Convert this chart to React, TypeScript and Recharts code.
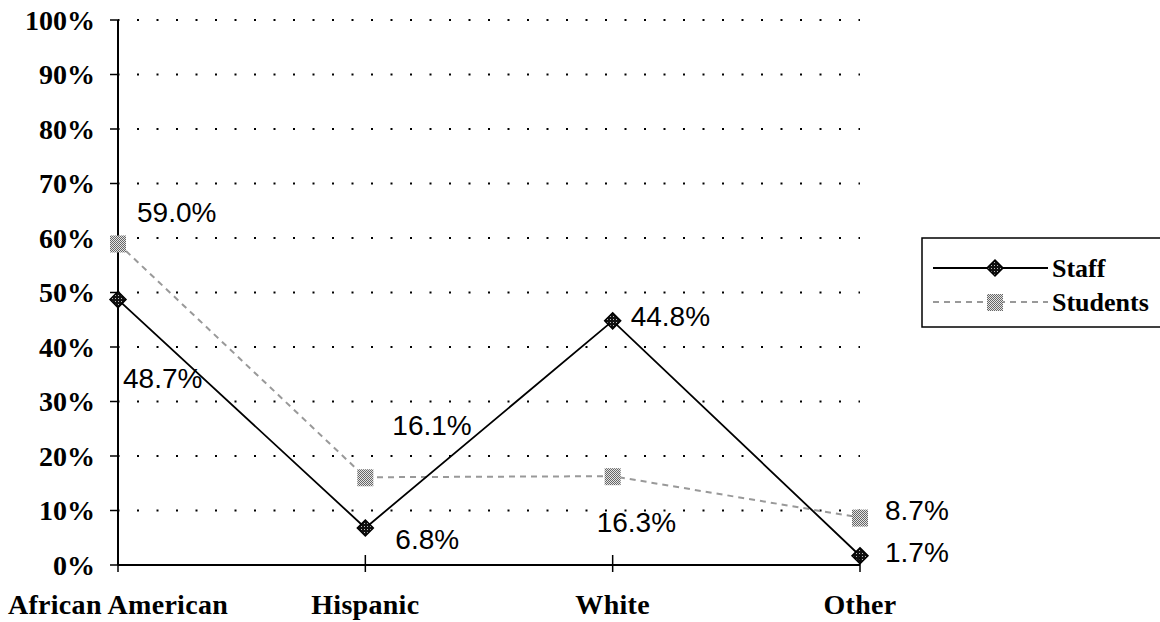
import React from 'react';
import { LineChart, Line, XAxis, YAxis, CartesianGrid } from 'recharts';

const categories = ['African American', 'Hispanic', 'White', 'Other'];
const staffValues = [48.7, 6.8, 44.8, 1.7];
const studentValues = [59.0, 16.1, 16.3, 8.7];
const yTicks = [0, 10, 20, 30, 40, 50, 60, 70, 80, 90, 100];
const seriesNames = ['Staff', 'Students'];

// label placement relative to each point (dx, dy)
const staffLabelOffsets = [[5, 79], [30, 12], [18, -4], [25, -3]];
const studentLabelOffsets = [[19, -31], [27, -52], [-16, 46], [25, -7]];

const data = categories.map((c, i) => ({
  category: c,
  staff: staffValues[i],
  students: studentValues[i],
}));

const SERIF = '"Liberation Serif", "Times New Roman", serif';
const SANS = '"Liberation Sans", Arial, sans-serif';

const StaffMarker = ({ cx, cy }: { cx: number; cy: number }) => (
  <path
    d={`M${cx},${cy - 8} L${cx + 8},${cy} L${cx},${cy + 8} L${cx - 8},${cy} Z`}
    fill="url(#staffHatch)"
    stroke="#000"
    strokeWidth={1.5}
  />
);

const StudentMarker = ({ cx, cy }: { cx: number; cy: number }) => (
  <rect x={cx - 8} y={cy - 8} width={16} height={17} fill="url(#studentStipple)" />
);

const renderStaffDot = (p: any) => (
  <StaffMarker key={`sd-${p.index}`} cx={p.cx} cy={p.cy} />
);
const renderStudentDot = (p: any) => (
  <StudentMarker key={`st-${p.index}`} cx={p.cx} cy={p.cy} />
);

const makeLabel = (offsets: number[][]) => (p: any) => {
  const o = offsets[p.index] || [0, 0];
  return (
    <text
      key={`lbl-${p.index}`}
      x={p.x + o[0]}
      y={p.y + o[1]}
      textAnchor="start"
      dominantBaseline="central"
      fontFamily={SANS}
      fontSize={28}
      fill="#000"
    >
      {Number(p.value).toFixed(1)}%
    </text>
  );
};

const CategoryTick = (p: any) => {
  const { x, y, payload } = p;
  return (
    <g>
      <line x1={x} x2={x} y1={y - 10} y2={y + 7} stroke="#000" strokeWidth={1.5} />
      <text
        x={x}
        y={y + 39}
        textAnchor="middle"
        dominantBaseline="central"
        fontFamily={SERIF}
        fontWeight="bold"
        fontSize={28}
        letterSpacing={0.3}
        fill="#000"
      >
        {payload.value}
      </text>
    </g>
  );
};

export default function App() {
  return (
    <div style={{ position: 'absolute', left: 0, top: 0, width: 1160, height: 622, background: '#fff', overflow: 'hidden' }}>
      <svg width={0} height={0} style={{ position: 'absolute' }}>
        <defs>
          <pattern id="staffHatch" patternUnits="userSpaceOnUse" width={3} height={3}>
            <rect width={3} height={3} fill="#111" />
            <rect x={1} y={1} width={1} height={1} fill="#bbb" />
          </pattern>
          <pattern id="studentStipple" patternUnits="userSpaceOnUse" width={2} height={2}>
            <rect width={2} height={2} fill="#e4e4e4" />
            <rect x={0} y={0} width={1} height={1} fill="#666" />
            <rect x={1} y={1} width={1} height={1} fill="#666" />
          </pattern>
        </defs>
      </svg>
      <LineChart
        width={1160}
        height={622}
        data={data}
        margin={{ top: 20, right: 300, bottom: 0, left: 0 }}
      >
        <CartesianGrid
          horizontal
          vertical={false}
          stroke="#000"
          strokeWidth={2}
          strokeDasharray="2 17.5"
          strokeDashoffset={0.5}
        />
        <XAxis
          dataKey="category"
          height={57}
          axisLine={{ stroke: '#000', strokeWidth: 2 }}
          tickLine={false}
          tickSize={0}
          tickMargin={0}
          interval={0}
          tick={<CategoryTick />}
        />
        <YAxis
          width={118}
          domain={[0, 100]}
          ticks={yTicks}
          interval={0}
          tickFormatter={(v: number) => `${v}%`}
          axisLine={{ stroke: '#000', strokeWidth: 2 }}
          tickLine={{ stroke: '#000', strokeWidth: 1.5 }}
          tickSize={8}
          tickMargin={15}
          tick={{ fontFamily: SERIF, fontWeight: 'bold', fontSize: 28, fill: '#000' }}
        />
        <Line
          dataKey="students"
          name={seriesNames[1]}
          stroke="#999"
          strokeWidth={2}
          strokeDasharray="6 5"
          dot={renderStudentDot}
          label={makeLabel(studentLabelOffsets)}
          isAnimationActive={false}
        />
        <Line
          dataKey="staff"
          name={seriesNames[0]}
          stroke="#000"
          strokeWidth={1.8}
          dot={renderStaffDot}
          label={makeLabel(staffLabelOffsets)}
          isAnimationActive={false}
        />
      </LineChart>
      <svg width={1160} height={622} style={{ position: 'absolute', left: 0, top: 0, pointerEvents: 'none' }}>
        <rect x={922} y={238} width={260} height={89} fill="#fff" stroke="#000" strokeWidth={1.5} />
        <line x1={933} x2={1048} y1={268} y2={268} stroke="#000" strokeWidth={1.8} />
        <StaffMarker cx={995} cy={268} />
        <text x={1052} y={268} dominantBaseline="central" fontFamily={SERIF} fontWeight="bold" fontSize={26} fill="#000">
          {seriesNames[0]}
        </text>
        <line x1={933} x2={1048} y1={302} y2={302} stroke="#999" strokeWidth={2} strokeDasharray="6 5" />
        <StudentMarker cx={995} cy={302} />
        <text x={1052} y={302} dominantBaseline="central" fontFamily={SERIF} fontWeight="bold" fontSize={26} fill="#000">
          {seriesNames[1]}
        </text>
      </svg>
    </div>
  );
}
